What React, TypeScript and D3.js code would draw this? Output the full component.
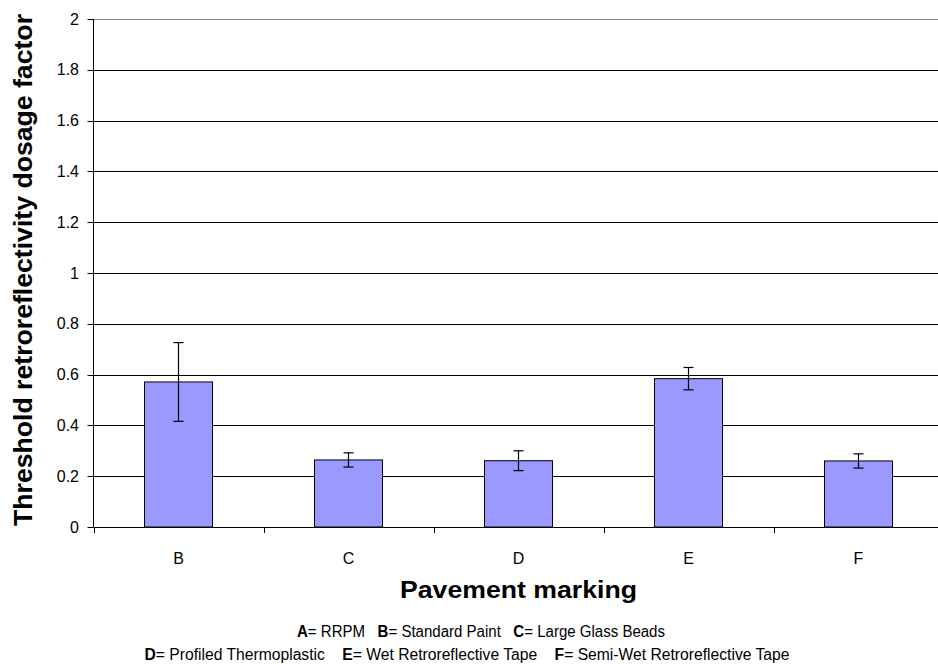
import React from "react";
import * as d3 from "d3";

const categories = ["B", "C", "D", "E", "F"];
const values = [0.571, 0.264, 0.261, 0.584, 0.26];
const errors = [0.155, 0.028, 0.039, 0.044, 0.028];
const yTicks = [0, 0.2, 0.4, 0.6, 0.8, 1, 1.2, 1.4, 1.6, 1.8, 2];

const W = 938;
const H = 664;
const left = 93.5;
const right = 943.5;
const top = 19;
const bottom = 527;

export default function App() {
  const x = d3.scaleBand<string>().domain(categories).range([left, right]).paddingInner(0).paddingOuter(0);
  const y = d3.scaleLinear().domain([0, 2]).range([bottom, top]);
  const bw = x.bandwidth() * 0.4;
  const font = "Arial, 'Liberation Sans', sans-serif";
  const fmt = (v: number) => (v === 0 ? "0" : String(+v.toFixed(1)));
  return (
    <svg width={W} height={H} style={{ position: "absolute", left: 0, top: 0 }} fontFamily={font}>
      <rect x={0} y={0} width={W} height={H} fill="#fff" />
      {yTicks.map((t) => (
        <g key={t}>
          {t > 0 && (
            <line x1={left} x2={right} y1={Math.round(y(t)) + 0.5} y2={Math.round(y(t)) + 0.5}
              stroke={t === 2 ? "#808080" : "#000"} strokeWidth={1} />
          )}
          <line x1={left - 6} x2={left} y1={Math.round(y(t)) + 0.5} y2={Math.round(y(t)) + 0.5} stroke="#000" />
          <text x={79} y={y(t)} dy="0.35em" textAnchor="end" fontSize={16}>{fmt(t)}</text>
        </g>
      ))}
      {categories.map((c, i) => {
        const cx = x(c)! + x.bandwidth() / 2;
        return (
          <g key={c}>
            <rect x={cx - bw / 2} y={y(values[i])} width={bw} height={y(0) - y(values[i])}
              fill="#9999FF" stroke="#000" strokeWidth={1} />
            <line x1={cx} x2={cx} y1={y(values[i] + errors[i])} y2={y(values[i] - errors[i])} stroke="#000" strokeWidth={1.2} />
            <line x1={cx - 5} x2={cx + 5} y1={y(values[i] + errors[i])} y2={y(values[i] + errors[i])} stroke="#000" strokeWidth={1.2} />
            <line x1={cx - 5} x2={cx + 5} y1={y(values[i] - errors[i])} y2={y(values[i] - errors[i])} stroke="#000" strokeWidth={1.2} />
            <text x={cx} y={564} textAnchor="middle" fontSize={16}>{c}</text>
          </g>
        );
      })}
      {d3.range(categories.length + 1).map((i) => {
        const tx = Math.round(left + i * x.bandwidth()) + 0.5;
        return <line key={i} x1={tx} x2={tx} y1={bottom} y2={bottom + 6} stroke="#000" />;
      })}
      <line x1={left} x2={left} y1={top} y2={bottom} stroke="#000" />
      <line x1={left} x2={right} y1={bottom + 0.5} y2={bottom + 0.5} stroke="#000" />
      <text transform={`translate(32,270) rotate(-90)`} textAnchor="middle" fontSize={25} fontWeight="bold"
        textLength={512} lengthAdjust="spacingAndGlyphs">
        Threshold retroreflectivity dosage factor
      </text>
      <text x={518.5} y={598} textAnchor="middle" fontSize={24} fontWeight="bold"
        textLength={237} lengthAdjust="spacingAndGlyphs">Pavement marking</text>
      <text x={481} y={637} textAnchor="middle" fontSize={16} xmlSpace="preserve"
        textLength={368} lengthAdjust="spacingAndGlyphs">
        <tspan fontWeight="bold">A</tspan>= RRPM   <tspan fontWeight="bold">B</tspan>= Standard Paint   <tspan fontWeight="bold">C</tspan>= Large Glass Beads
      </text>
      <text x={467} y={660} textAnchor="middle" fontSize={16} xmlSpace="preserve"
        textLength={645} lengthAdjust="spacingAndGlyphs">
        <tspan fontWeight="bold">D</tspan>= Profiled Thermoplastic    <tspan fontWeight="bold">E</tspan>= Wet Retroreflective Tape    <tspan fontWeight="bold">F</tspan>= Semi-Wet Retroreflective Tape
      </text>
    </svg>
  );
}
